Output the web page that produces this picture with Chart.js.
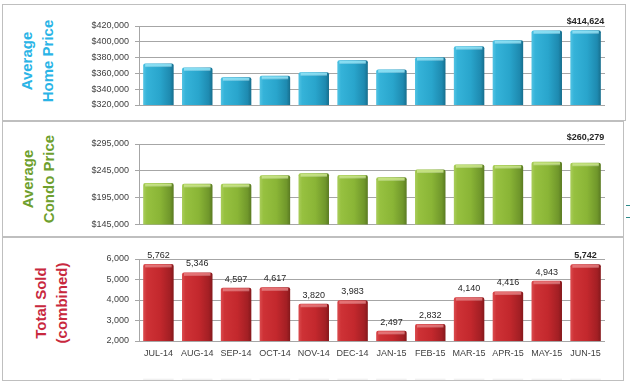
<!DOCTYPE html>
<html>
<head>
<meta charset="utf-8">
<script src="https://cdn.jsdelivr.net/npm/chart.js@4.4.1/dist/chart.umd.min.js"></script>
<style>
  html, body { margin: 0; padding: 0; background: #ffffff; }
  #wrap { position: relative; width: 630px; height: 383px; overflow: hidden; background: #fff; }
  .box { position: absolute; border: 1px solid #BFBFBF; box-sizing: border-box; }
  .cv { position: absolute; left: 0; }
  .ttl { position: absolute; font-family: 'Liberation Sans', Arial, sans-serif; font-weight: bold;
         font-size: 15px; line-height: 21px; text-align: center; white-space: pre;
         transform: translate(-50%, -50%) rotate(-90deg); }
  .tick { position: absolute; height: 1px; background: #2E8B8B; }
</style>
</head>
<body>
<div id="wrap">
  <div class="box" style="left:2px;top:4px;width:624px;height:117px;"></div>
  <div class="box" style="left:2px;top:121px;width:622px;height:116px;"></div>
  <div class="box" style="left:2px;top:237px;width:622px;height:144px;"></div>
  <div class="tick" style="left:626px;top:205px;width:4px;"></div>
  <div class="tick" style="left:626px;top:217px;width:4px;"></div>

  <div class="ttl" style="left:37px;top:61px;color:#2AB4E6;">Average
Home Price</div>
  <div class="ttl" style="left:38px;top:179px;color:#6E9F2E;">Average
Condo Price</div>
  <div class="ttl" style="left:51px;top:303px;color:#C8283E;">Total Sold
(combined)</div>

  <canvas id="c1" class="cv" width="630" height="116" style="top:4px;"></canvas>
  <canvas id="c2" class="cv" width="630" height="115" style="top:121px;"></canvas>
  <canvas id="c3" class="cv" width="630" height="143" style="top:237px;"></canvas>
</div>
<script>
// ---- data ----
const categories = ['JUL-14','AUG-14','SEP-14','OCT-14','NOV-14','DEC-14','JAN-15','FEB-15','MAR-15','APR-15','MAY-15','JUN-15'];
const homePrices  = [372500, 367500, 355000, 357000, 361500, 376500, 365000, 380500, 394500, 402000, 414300, 414624];
const condoPrices = [222500, 221000, 221000, 237000, 240500, 237500, 233000, 247500, 257000, 256000, 262000, 260279];
const totalSold   = [5762, 5346, 4597, 4617, 3820, 3983, 2497, 2832, 4140, 4416, 4943, 5742];
const homeTicks  = [320000, 340000, 360000, 380000, 400000, 420000];
const condoTicks = [145000, 195000, 245000, 295000];
const soldTicks  = [2000, 3000, 4000, 5000, 6000];

const FONT = "'Liberation Sans', Arial, sans-serif";
const fmtNum = v => Math.round(v).toLocaleString('en-US');
const fmtUsd = v => '$' + fmtNum(v);
const formatters = { usd: fmtUsd, num: fmtNum };

const palettes = {
  blue:  { stops: [[0,'#52C3E3'],[0.12,'#35B3D9'],[0.55,'#29A5CC'],[0.88,'#1E8AB0'],[1,'#176E8D']], cap: 'rgba(150,230,248,0.85)' },
  green: { stops: [[0,'#AACD5C'],[0.12,'#97C140'],[0.55,'#8AB536'],[0.88,'#70972B'],[1,'#5A7A22']], cap: 'rgba(205,232,140,0.85)' },
  red:   { stops: [[0,'#DA4C4F'],[0.12,'#CE3236'],[0.55,'#C3282D'],[0.88,'#A31F24'],[1,'#84181B']], cap: 'rgba(236,130,132,0.8)' }
};

const barStyle = {
  id: 'barStyle',
  beforeDatasetsDraw(chart) {
    const cfg = chart.$style;
    const ctx = chart.ctx;
    chart.getDatasetMeta(0).data.forEach(bar => {
      const l = bar.x - bar.width / 2;
      const g = ctx.createLinearGradient(l, 0, l + bar.width, 0);
      cfg.pal.stops.forEach(([o, c]) => g.addColorStop(o, c));
      bar.options = Object.assign({}, bar.options, { backgroundColor: g });
    });
  },
  afterDatasetsDraw(chart) {
    const cfg = chart.$style;
    const fmt = formatters[cfg.fmt];
    const ctx = chart.ctx;
    const meta = chart.getDatasetMeta(0);
    const vals = chart.data.datasets[0].data;
    ctx.save();
    meta.data.forEach(bar => {
      const l = bar.x - bar.width / 2;
      const cg = ctx.createLinearGradient(0, bar.y, 0, bar.y + 4);
      cg.addColorStop(0, cfg.pal.cap);
      cg.addColorStop(0.5, cfg.pal.cap);
      cg.addColorStop(1, 'rgba(255,255,255,0)');
      ctx.fillStyle = cg;
      ctx.fillRect(l + 2, bar.y + 0.5, bar.width - 4, 4);
      const bg = ctx.createLinearGradient(0, bar.base - 4, 0, bar.base);
      bg.addColorStop(0, 'rgba(0,0,0,0)');
      bg.addColorStop(1, 'rgba(0,0,0,0.15)');
      ctx.fillStyle = bg;
      ctx.fillRect(l, bar.base - 4, bar.width, 4);
    });
    ctx.textAlign = 'center';
    ctx.textBaseline = 'bottom';
    ctx.fillStyle = '#262626';
    meta.data.forEach((bar, i) => {
      const last = i === vals.length - 1;
      if (cfg.labels === 'last' && !last) return;
      ctx.font = (last ? 'bold ' : '') + '9px ' + FONT;
      const y = cfg.labelAtTop ? chart.chartArea.top - 2 : bar.y - 4;
      ctx.fillText(fmt(vals[i]), bar.x, y);
    });
    ctx.restore();
  }
};

function makeChart(id, values, ticks, fmtKey, pal, labels, labelAtTop, showX, pad) {
  const fmt = formatters[fmtKey];
  const chart = new Chart(document.getElementById(id), {
    type: 'bar',
    data: {
      labels: categories,
      datasets: [{ data: values, backgroundColor: pal.stops[2][1], borderWidth: 0,
                   borderRadius: { topLeft: 2, topRight: 2, bottomLeft: 0, bottomRight: 0 },
                   borderSkipped: false,
                   barPercentage: 0.785, categoryPercentage: 1 }]
    },
    options: {
      responsive: false,
      animation: false,
      layout: { padding: pad },
      plugins: { legend: { display: false }, tooltip: { enabled: false } },
      scales: {
        x: {
          display: showX,
          grid: { display: false, drawTicks: false },
          border: { display: false },
          ticks: { color: '#404040', font: { family: FONT, size: 9 }, padding: 7, maxRotation: 0, autoSkip: false },
          afterFit: s => { if (showX) s.height = 20; }
        },
        y: {
          min: ticks[0], max: ticks[ticks.length - 1],
          afterBuildTicks: s => { s.ticks = ticks.map(v => ({ value: v })); },
          afterFit: s => { s.width = 139; },
          grid: { color: '#A6A6A6', lineWidth: 1, drawTicks: true, tickLength: 4 },
          border: { display: true, color: '#A6A6A6' },
          ticks: { color: '#404040', font: { family: FONT, size: 9 }, padding: 6, autoSkip: false,
                   callback: v => fmt(v) }
        }
      }
    },
    plugins: [{ id: 'styleInit', beforeInit(c) { c.$style = { pal, labels, labelAtTop, fmt: fmtKey }; } }, barStyle]
  });
  return chart;
}

makeChart('c1', homePrices, homeTicks, 'usd', palettes.blue, 'last', false, false,
          { left: 0, right: 25, top: 22, bottom: 15 });
makeChart('c2', condoPrices, condoTicks, 'usd', palettes.green, 'last', true, false,
          { left: 0, right: 25, top: 23, bottom: 9 });
makeChart('c3', totalSold, soldTicks, 'num', palettes.red, 'all', false, true,
          { left: 0, right: 25, top: 22, bottom: 19 });
</script>
</body>
</html>
